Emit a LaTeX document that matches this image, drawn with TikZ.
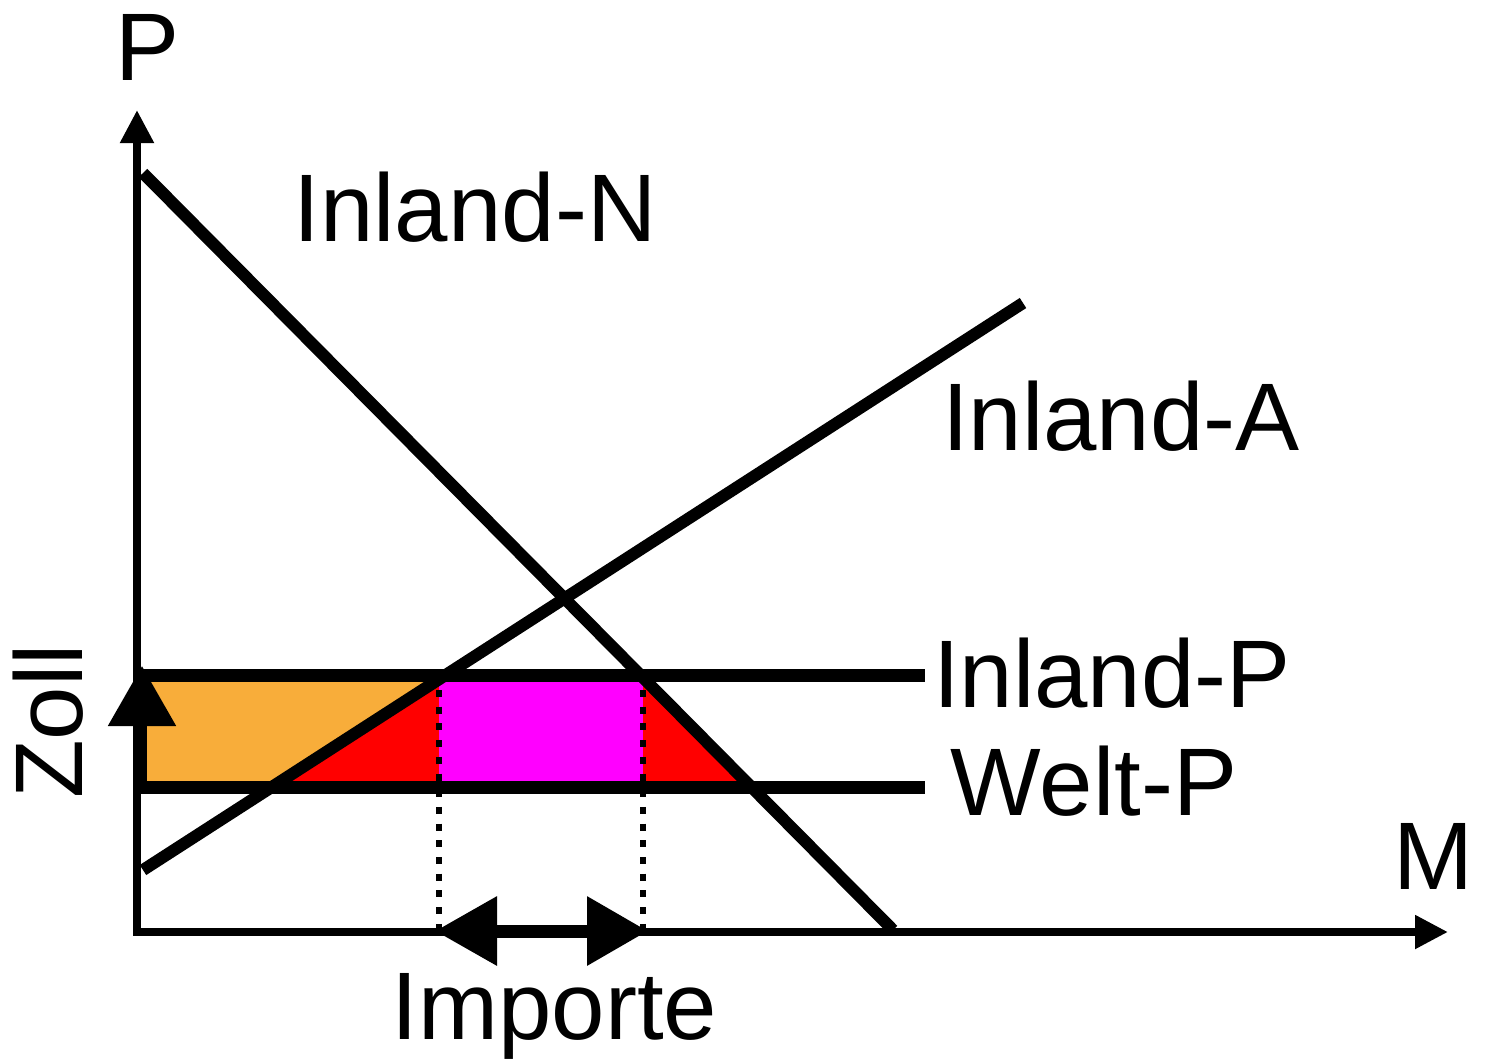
\documentclass[tikz,border=0pt]{standalone}
\usepackage{fontspec}
\setmainfont{Liberation Sans}
\usetikzlibrary{arrows.meta}
\definecolor{surplusorange}{RGB}{248,173,58}
\definecolor{lossred}{RGB}{255,0,0}
\definecolor{revmagenta}{RGB}{255,0,255}
\tikzset{
  lbl/.style={font=\fontsize{96}{100}\selectfont, inner sep=0pt, anchor=base},
  curve/.style={line width=12pt},
  priceline/.style={line width=13pt},
  axisline/.style={line width=8pt, -{Triangle[length=33pt,width=32pt]}},
  dotline/.style={line width=6pt, dash pattern=on 7pt off 9.7pt},
}
\begin{document}
\begin{tikzpicture}[x=1pt,y=-1pt]
\useasboundingbox (0,0) rectangle (1485,1061);
% key coordinates
\coordinate (O) at (137,932);
\coordinate (Ytop) at (137,110);
\coordinate (Xend) at (1448,932);
\coordinate (D1) at (143,173);
\coordinate (D2) at (893,930);
\coordinate (S1) at (143,870);
\coordinate (S2) at (1023,303);
\coordinate (IP1) at (140,675);
\coordinate (IP2) at (925,675);
\coordinate (WP1) at (133,787);
\coordinate (WP2) at (925,787);
% fills
\fill[surplusorange] (145,681) -- (436,681) -- (283,781) -- (145,781) -- cycle;
\fill[lossred] (436,681) -- (439,681) -- (439,781) -- (283,781) -- cycle;
\fill[revmagenta] (439,681) rectangle (643,781);
\fill[lossred] (643,681) -- (646,681) -- (745,781) -- (643,781) -- cycle;
% dotted lines
\coordinate (L1) at (439,690);
\coordinate (L1b) at (439,930);
\coordinate (L2) at (643,690);
\coordinate (L2b) at (643,930);
\draw[dotline] (L1) -- (L1b);
\draw[dotline] (L2) -- (L2b);
% axes
\draw[axisline] (O) -- (Ytop);
\draw[axisline] ([xshift=-4pt]O) -- (Xend);
% curves
\draw[curve] (D1) -- (D2);
\draw[curve] (S1) -- (S2);
\draw[priceline] (IP1) -- (IP2);
\draw[priceline] (WP1) -- (WP2);
% Zoll arrow
\coordinate (Z1) at (142,781);
\coordinate (Z2) at (142,666);
\draw[line width=9pt, -{Triangle[length=60pt,width=66pt]}] (Z1) -- (Z2);
% Importe arrow
\coordinate (I1) at (435,931);
\coordinate (I2) at (648,931);
\draw[line width=13pt, {Triangle[length=62pt,width=66pt]}-{Triangle[length=61pt,width=66pt]}] (I1) -- (I2);
% labels
\node[lbl] (tP) at (147.5,80) {P};
\node[lbl] (tM) at (1433,889) {M};
\node[lbl] (tN) at (475,241) {Inland-N};
\node[lbl] (tA) at (1121,450) {Inland-A};
\node[lbl] (tIP) at (1112,707) {Inland-P};
\node[lbl] (tWP) at (1094,815) {Welt-P};
\node[lbl] (tImp) at (554.5,1039) {Importe};
\node[lbl, rotate=90] (tZ) at (82,721.5) {Zoll};
\end{tikzpicture}
\end{document}
